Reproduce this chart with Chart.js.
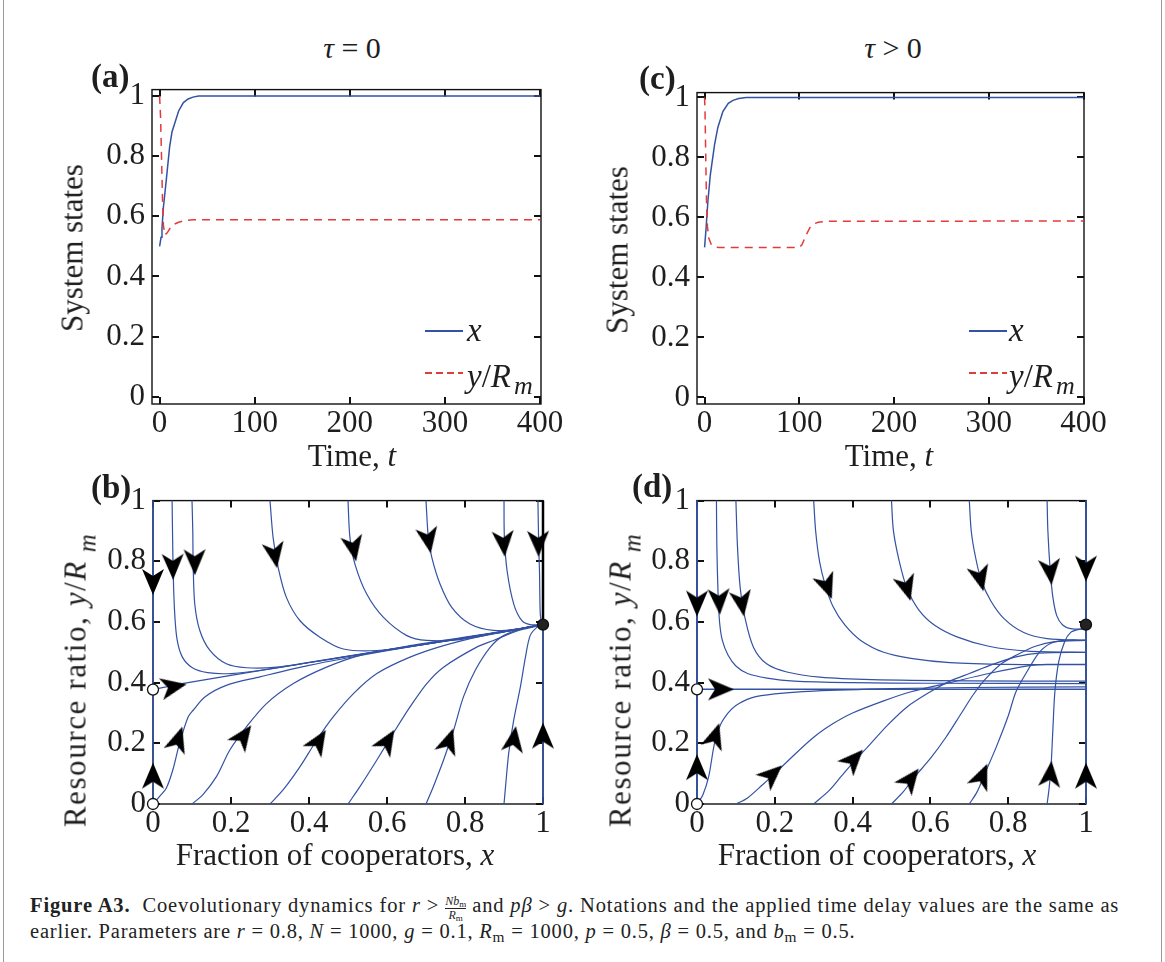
<!DOCTYPE html>
<html>
<head>
<meta charset="utf-8">
<script src="https://cdn.jsdelivr.net/npm/chart.js@4.4.1/dist/chart.umd.min.js"></script>
<style>
body { margin: 0; background: #fff; width: 1165px; height: 962px; position: relative; overflow: hidden;
       font-family: 'Liberation Serif', 'Times New Roman', serif; color: #1e1e1e; }
canvas { position: absolute; }
.t { position: absolute; white-space: nowrap; line-height: 1; }
.c { transform: translateX(-50%); }
.r { transform: translate(-50%, -50%) rotate(-90deg); }
.pl { font-weight: bold; font-size: 33px; }
.ax { font-size: 31px; }
.lg { position: absolute; }
sub { font-size: 0.8em; vertical-align: -0.4em; line-height: 0; }
.cap { position: absolute; white-space: nowrap; font-size: 20.5px; line-height: 1; color: #222; }
.cap sub { font-size: 0.75em; vertical-align: -0.25em; }
.frac { display: inline-block; vertical-align: -0.55em; text-align: center; font-size: 12px; line-height: 1.05; letter-spacing: 0; }
.frac span { display: block; }
.frac span:first-child { border-bottom: 0.8px solid #222; }
.edge { position: absolute; top: 0; width: 1px; height: 962px; background: #9a9a9a; }
</style>
</head>
<body>
<div class="edge" style="left:3px"></div>
<div class="edge" style="left:1161px"></div>

<canvas id="chA"></canvas>
<canvas id="chB"></canvas>
<canvas id="chC"></canvas>
<canvas id="chD"></canvas>

<div class="t c" style="left:352px;top:33px;font-size:30px"><i>τ</i> = 0</div>
<div class="t c" style="left:893px;top:33px;font-size:30px"><i>τ</i> &gt; 0</div>

<div class="t pl" style="left:91px;top:60px">(a)</div>
<div class="t pl" style="left:91px;top:471px">(b)</div>
<div class="t pl" style="left:639px;top:62px">(c)</div>
<div class="t pl" style="left:632px;top:470px">(d)</div>

<div class="t r ax" style="left:72px;top:248px">System states</div>
<div class="t r ax" style="left:617px;top:250px">System states</div>
<div class="t c ax" style="left:352px;top:440px">Time, <i>t</i></div>
<div class="t c ax" style="left:889px;top:440px">Time, <i>t</i></div>

<div class="t r ax" style="left:75px;top:680px;letter-spacing:1.6px">Resource ratio, <i>y</i>/<i>R</i>&thinsp;<sub><i>m</i></sub></div>
<div class="t r ax" style="left:620px;top:680px;letter-spacing:1.6px">Resource ratio, <i>y</i>/<i>R</i>&thinsp;<sub><i>m</i></sub></div>
<div class="t c ax" style="left:335px;top:839px">Fraction of cooperators, <i>x</i></div>
<div class="t c ax" style="left:877px;top:839px">Fraction of cooperators, <i>x</i></div>

<!-- legends -->
<div class="lg" style="left:425px;top:330px;width:38px;height:2px;background:#3452a4"></div>
<div class="lg" style="left:425px;top:372px;width:38px;height:1.5px;background:repeating-linear-gradient(90deg,#e23b3b 0 7px,transparent 7px 11px)"></div>
<div class="t" style="left:467px;top:314px;font-size:33px"><i>x</i></div>
<div class="t" style="left:467px;top:360px;font-size:33px"><i>y</i>/<i>R</i></div>
<div class="t" style="left:514px;top:373px;font-size:26px"><i>m</i></div>

<div class="lg" style="left:969px;top:330px;width:38px;height:2px;background:#3452a4"></div>
<div class="lg" style="left:969px;top:372px;width:38px;height:1.5px;background:repeating-linear-gradient(90deg,#e23b3b 0 7px,transparent 7px 11px)"></div>
<div class="t" style="left:1009px;top:314px;font-size:33px"><i>x</i></div>
<div class="t" style="left:1009px;top:360px;font-size:33px"><i>y</i>/<i>R</i></div>
<div class="t" style="left:1056px;top:373px;font-size:26px"><i>m</i></div>

<div class="cap" data-w="1093" style="left:30px;top:895px"><b>Figure A3.</b>&nbsp; Coevolutionary dynamics for <i>r</i> &gt; <span class="frac"><span><i>Nb</i><sub>m</sub></span><span><i>R</i><sub>m</sub></span></span> and <i>pβ</i> &gt; <i>g</i>. Notations and the applied time delay values are the same as</div>
<div class="cap" data-w="825" style="left:30px;top:921px">earlier. Parameters are <i>r</i> = 0.8, <i>N</i> = 1000, <i>g</i> = 0.1, <i>R</i><sub>m</sub> = 1000, <i>p</i> = 0.5, <i>β</i> = 0.5, and <i>b</i><sub>m</sub> = 0.5.</div>

<script>
// ---- tick labels
const timeTicks = [0, 100, 200, 300, 400];
const unitTicks = [0, 0.2, 0.4, 0.6, 0.8, 1];

// ---- (a) tau = 0, time series  [t, value]
const aX = [[0,0.5],[1.5,0.53],[2.5,0.56],[4,0.63],[7,0.72],[10.5,0.83],[13,0.88],[16.5,0.915],[20,0.95],[25,0.978],[30,0.99],[35,0.996],[41,1],[400,1]];
const aY = [[0,1],[1,0.93],[2,0.8],[3,0.66],[4,0.57],[5.5,0.538],[8,0.545],[11,0.56],[15,0.573],[20,0.58],[25,0.585],[35,0.588],[400,0.588]];

// ---- (c) tau > 0, time series
const cX = [[0,0.5],[1.5,0.56],[3.5,0.654],[6,0.74],[10.5,0.842],[14,0.9],[19.3,0.953],[25,0.98],[30,0.99],[36,0.996],[44,1],[400,1]];
const cY = [[0,1],[0.5,0.95],[1,0.85],[1.5,0.75],[2,0.66],[3,0.57],[4.5,0.53],[7,0.51],[10,0.502],[15,0.5],[100,0.5],[103,0.51],[107,0.54],[111,0.565],[115,0.578],[120,0.584],[130,0.587],[400,0.588]];

// ---- (b) phase portrait, tau = 0   [x, y/Rm], listed in flow direction
const bEdges = [[[0,1],[0,0.377]], [[0,0],[0,0.377]], [[1,0],[1,0.591]]];
const bEdgeTop = [[1,1],[1,0.591]];
const bManifold = [[0,0.377],[0.03,0.385],[0.086,0.399],[0.2,0.424],[0.4,0.467],[0.6,0.508],[0.8,0.548],[0.9,0.567],[0.96,0.582],[1,0.591]];
const bTop = [
  [[0.049,1],[0.05,0.9],[0.052,0.75],[0.056,0.62],[0.062,0.54],[0.075,0.485],[0.1,0.45],[0.14,0.433],[0.2,0.43],[0.3,0.445],[0.5,0.487],[0.7,0.527],[0.85,0.558],[0.95,0.58],[1,0.591]],
  [[0.1,1],[0.102,0.9],[0.103,0.79],[0.107,0.66],[0.12,0.572],[0.146,0.506],[0.188,0.462],[0.24,0.449],[0.317,0.451],[0.45,0.476],[0.6,0.507],[0.8,0.548],[0.92,0.572],[1,0.591]],
  [[0.3,1],[0.308,0.878],[0.321,0.779],[0.342,0.681],[0.377,0.604],[0.428,0.55],[0.488,0.511],[0.574,0.506],[0.7,0.527],[0.85,0.558],[0.95,0.58],[1,0.591]],
  [[0.5,1],[0.505,0.878],[0.518,0.79],[0.548,0.692],[0.591,0.615],[0.651,0.555],[0.702,0.539],[0.788,0.542],[0.9,0.567],[1,0.591]],
  [[0.7,1],[0.706,0.878],[0.715,0.812],[0.736,0.725],[0.766,0.648],[0.813,0.593],[0.873,0.572],[0.942,0.578],[1,0.591]],
  [[0.9,1],[0.901,0.878],[0.908,0.768],[0.925,0.659],[0.946,0.604],[0.967,0.591],[1,0.591]],
  [[0.987,1],[0.989,0.85],[0.991,0.768],[0.993,0.626],[0.997,0.595],[1,0.591]]
];
const bBottom = [
  [[0,0],[0.017,0.025],[0.034,0.052],[0.051,0.113],[0.068,0.2],[0.09,0.287],[0.103,0.309],[0.133,0.353],[0.188,0.391],[0.274,0.419],[0.4,0.457],[0.6,0.505],[0.8,0.548],[0.92,0.572],[1,0.591]],
  [[0.1,0],[0.128,0.031],[0.163,0.091],[0.197,0.178],[0.24,0.255],[0.291,0.331],[0.36,0.397],[0.445,0.451],[0.531,0.49],[0.65,0.52],[0.8,0.55],[0.92,0.574],[1,0.591]],
  [[0.3,0],[0.334,0.047],[0.377,0.123],[0.42,0.211],[0.462,0.287],[0.514,0.364],[0.574,0.43],[0.659,0.484],[0.745,0.522],[0.85,0.556],[0.95,0.58],[1,0.591]],
  [[0.5,0],[0.531,0.058],[0.574,0.145],[0.616,0.233],[0.659,0.32],[0.702,0.397],[0.745,0.451],[0.83,0.517],[0.873,0.539],[0.94,0.573],[1,0.591]],
  [[0.7,0],[0.719,0.058],[0.745,0.145],[0.771,0.244],[0.796,0.353],[0.826,0.44],[0.865,0.517],[0.899,0.555],[0.959,0.583],[1,0.591]],
  [[0.9,0],[0.904,0.058],[0.912,0.167],[0.925,0.277],[0.942,0.386],[0.955,0.484],[0.967,0.555],[0.985,0.583],[1,0.591]]
];
const bArrows = [[0,0.735],[0,0.09],[0.051,0.386],[0.051,0.785],[0.107,0.8],[0.312,0.823],[0.514,0.845],[0.706,0.872],[0.899,0.861],[0.988,0.861],
                 [0.064,0.211],[0.231,0.222],[0.424,0.205],[0.6,0.205],[0.758,0.205],[0.925,0.211],[1,0.222]];
const bUnstable = [[0,0],[0,0.377]];
const bStable = [[1,0.591]];

// ---- (d) phase portrait, tau > 0
const dEdges = [[[0,1],[0,0.378]], [[0,0],[0,0.378]], [[1,1],[1,0.591]], [[1,0],[1,0.591]]];
const dManifold = [[0,0.378],[1,0.378]];
const dTop = [
  [[0.05,1],[0.051,0.85],[0.054,0.7],[0.058,0.6],[0.065,0.54],[0.08,0.49],[0.1,0.455],[0.13,0.43],[0.18,0.415],[0.25,0.405],[0.4,0.4],[0.6,0.398],[1,0.397]],
  [[0.1,1],[0.104,0.85],[0.111,0.714],[0.123,0.615],[0.145,0.517],[0.179,0.462],[0.231,0.435],[0.316,0.418],[0.45,0.41],[0.7,0.406],[1,0.405]],
  [[0.3,1],[0.305,0.9],[0.315,0.8],[0.33,0.72],[0.35,0.65],[0.38,0.59],[0.42,0.54],[0.48,0.5],[0.55,0.48],[0.65,0.466],[0.8,0.46],[1,0.459]],
  [[0.5,1],[0.505,0.9],[0.52,0.8],[0.54,0.71],[0.57,0.64],[0.61,0.59],[0.67,0.55],[0.75,0.52],[0.85,0.504],[1,0.5]],
  [[0.7,1],[0.705,0.9],[0.715,0.82],[0.73,0.74],[0.755,0.67],[0.79,0.61],[0.84,0.565],[0.9,0.545],[1,0.539]],
  [[0.9,1],[0.902,0.9],[0.908,0.77],[0.915,0.68],[0.925,0.62],[0.94,0.59],[0.96,0.578],[1,0.576]]
];
const dBottom = [
  [[0,0],[0.015,0.03],[0.03,0.09],[0.045,0.2],[0.06,0.26],[0.08,0.3],[0.1,0.325],[0.14,0.35],[0.2,0.363],[0.3,0.372],[0.5,0.38],[0.7,0.384],[1,0.386]],
  [[0.1,0],[0.13,0.02],[0.17,0.065],[0.2,0.1],[0.24,0.15],[0.3,0.22],[0.35,0.265],[0.4,0.3],[0.48,0.34],[0.55,0.37],[0.65,0.4],[0.75,0.43],[0.85,0.455],[0.9,0.46],[1,0.46]],
  [[0.3,0],[0.34,0.045],[0.37,0.09],[0.4,0.135],[0.44,0.19],[0.49,0.26],[0.54,0.32],[0.6,0.37],[0.65,0.405],[0.7,0.43],[0.76,0.46],[0.82,0.485],[0.88,0.497],[1,0.5]],
  [[0.5,0],[0.53,0.04],[0.56,0.09],[0.6,0.15],[0.64,0.22],[0.68,0.3],[0.71,0.36],[0.74,0.41],[0.78,0.46],[0.82,0.49],[0.87,0.52],[0.92,0.535],[1,0.539]],
  [[0.7,0],[0.72,0.04],[0.74,0.1],[0.77,0.19],[0.8,0.29],[0.82,0.37],[0.85,0.44],[0.88,0.5],[0.91,0.53],[0.95,0.54],[1,0.54]],
  [[0.9,0],[0.905,0.05],[0.91,0.12],[0.915,0.25],[0.92,0.37],[0.93,0.47],[0.945,0.535],[0.96,0.565],[0.98,0.575],[1,0.578]]
];
const dArrows = [[0,0.664],[0,0.118],[0.059,0.378],[0.057,0.67],[0.115,0.664],[0.334,0.719],[0.539,0.714],[0.728,0.746],[0.908,0.768],[1,0.779],
                 [0.046,0.222],[0.192,0.096],[0.402,0.145],[0.548,0.08],[0.732,0.09],[0.908,0.096],[1,0.09]];
const dUnstable = [[0,0],[0,0.378]];
const dStable = [[1,0.591]];

// ---- styling
const BLUE = '#3452a4';
const RED = '#e23b3b';
const FONT = {family: 'Liberation Serif', size: 31};
const PADT = 24, PADR = 40, YW = 120, XH = 48;

const xy = arr => arr.map(([x, y]) => ({x, y}));

function arrowSprite() {
  const c = document.createElement('canvas');
  c.width = 34; c.height = 34;
  const g = c.getContext('2d');
  g.translate(17, 17);
  g.beginPath();
  g.moveTo(14, 0); g.lineTo(-12, -11); g.lineTo(-5, 0); g.lineTo(-12, 11);
  g.closePath();
  g.fillStyle = '#000';
  g.fill();
  return c;
}
const SPRITE = arrowSprite();

// direction of the flow at a point, from the nearest trajectory segment (pixel space)
function flowAngle(chart, p, paths) {
  const sx = chart.scales.x, sy = chart.scales.y;
  const px = sx.getPixelForValue(p.x), py = sy.getPixelForValue(p.y);
  let best = Infinity, ang = 0;
  paths.forEach(path => {
    for (let i = 0; i < path.length - 1; i++) {
      const ax = sx.getPixelForValue(path[i][0]), ay = sy.getPixelForValue(path[i][1]);
      const bx = sx.getPixelForValue(path[i + 1][0]), by = sy.getPixelForValue(path[i + 1][1]);
      const dx = bx - ax, dy = by - ay, len2 = dx * dx + dy * dy || 1;
      let u = ((px - ax) * dx + (py - ay) * dy) / len2;
      u = Math.max(0, Math.min(1, u));
      const d = Math.hypot(ax + u * dx - px, ay + u * dy - py);
      if (d < best - 0.01) { best = d; ang = Math.atan2(dy, dx); }
    }
  });
  return ang * 180 / Math.PI;
}

const framePlugin = {
  id: 'frame',
  beforeDatasetsDraw(chart) {
    const {ctx, chartArea: a, scales: {x, y}} = chart;
    ctx.save();
    ctx.strokeStyle = '#111';
    ctx.lineWidth = 1.4;
    ctx.strokeRect(a.left, a.top, a.right - a.left, a.bottom - a.top);
    ctx.lineWidth = 2;
    ctx.beginPath();
    x.ticks.forEach(t => {
      const px = Math.round(x.getPixelForValue(t.value));
      ctx.moveTo(px, a.bottom); ctx.lineTo(px, a.bottom - 7);
      ctx.moveTo(px, a.top); ctx.lineTo(px, a.top + 7);
    });
    y.ticks.forEach(t => {
      const py = Math.round(y.getPixelForValue(t.value));
      ctx.moveTo(a.left, py); ctx.lineTo(a.left + 7, py);
      ctx.moveTo(a.right, py); ctx.lineTo(a.right - 7, py);
    });
    ctx.stroke();
    ctx.restore();
  }
};

function axis(min, max, ticks, isX) {
  return {
    type: 'linear', min, max,
    grid: {display: false, drawTicks: false},
    border: {display: false},
    ticks: {font: FONT, color: '#1e1e1e', padding: isX ? 1 : 7, maxRotation: 0, autoSkip: false,
            callback: v => String(v)},
    afterBuildTicks: s => { s.ticks = ticks.map(v => ({value: v})); },
    afterFit: s => { if (isX) s.height = XH; else s.width = YW; }
  };
}

function build(id, rect, xr, yr, xt, yt, datasets) {
  const cv = document.getElementById(id);
  cv.width = rect.R - rect.L + YW + PADR;
  cv.height = rect.B - rect.T + PADT + XH;
  cv.style.left = (rect.L - YW) + 'px';
  cv.style.top = (rect.T - PADT) + 'px';
  return new Chart(cv, {
    type: 'scatter',
    data: {datasets},
    options: {
      responsive: false, animation: false, events: [],
      layout: {padding: {top: PADT, right: PADR, left: 0, bottom: 0}},
      plugins: {legend: {display: false}, tooltip: {enabled: false}},
      scales: {x: axis(xr[0], xr[1], xt, true), y: axis(yr[0], yr[1], yt, false)}
    },
    plugins: [framePlugin]
  });
}

function series(arr, color, dash) {
  return {data: xy(arr), showLine: true, borderColor: color, borderWidth: 1.5, borderDash: dash || [],
          pointRadius: 0, tension: 0, order: 3};
}
function path(arr, color, width) {
  return {data: xy(arr), showLine: true, borderColor: color, borderWidth: width || 1.2,
          pointRadius: 0, tension: 0.3, clip: false, order: 3};
}
function arrows(pts, paths) {
  return {data: xy(pts), showLine: false, pointStyle: SPRITE, pointRadius: 14, clip: false, order: 1,
          rotation: ctx => ctx.raw ? flowAngle(ctx.chart, ctx.raw, paths) : 0};
}
function dots(pts, fill) {
  return {data: xy(pts), showLine: false, pointRadius: 5.5, pointBackgroundColor: fill,
          pointBorderColor: '#111', pointBorderWidth: 1.3, clip: false, order: 0};
}

// (a)
build('chA', {L: 152, T: 88, R: 541, B: 404}, [-8, 401], [-0.024, 1.021], timeTicks, unitTicks, [
  series(aY, RED, [8, 6]),
  series(aX, BLUE)
]);
// (c)
build('chC', {L: 697, T: 91, R: 1084, B: 404}, [-8, 400.5], [-0.022, 1.016], timeTicks, unitTicks, [
  series(cY, RED, [8, 6]),
  series(cX, BLUE)
]);

// (b)
const bPaths = [...bEdges, bEdgeTop, bManifold, ...bTop, ...bBottom];
build('chB', {L: 153, T: 499, R: 543, B: 804}, [0, 1], [0, 1], unitTicks, unitTicks, [
  dots(bUnstable, '#fff'),
  dots(bStable, '#222'),
  arrows(bArrows, bPaths),
  ...bEdges.map(p => path(p, BLUE, 1.6)),
  path(bEdgeTop, '#000', 2.5),
  path(bManifold, BLUE),
  ...bTop.map(p => path(p, BLUE)),
  ...bBottom.map(p => path(p, BLUE))
]);

// (d)
const dPaths = [...dEdges, dManifold, ...dTop, ...dBottom];
build('chD', {L: 697, T: 499, R: 1086, B: 804}, [0, 1], [0, 1], unitTicks, unitTicks, [
  dots(dUnstable, '#fff'),
  dots(dStable, '#222'),
  arrows(dArrows, dPaths),
  ...dEdges.map(p => path(p, BLUE, 1.8)),
  path(dManifold, BLUE, 1.6),
  ...dTop.map(p => path(p, BLUE)),
  ...dBottom.map(p => path(p, BLUE))
]);

// stretch the caption lines to the measured widths of the printed caption
document.querySelectorAll('.cap').forEach(el => {
  const w = el.getBoundingClientRect().width;
  const n = el.textContent.length;
  el.style.letterSpacing = ((+el.dataset.w - w) / n).toFixed(2) + 'px';
});
</script>
</body>
</html>
